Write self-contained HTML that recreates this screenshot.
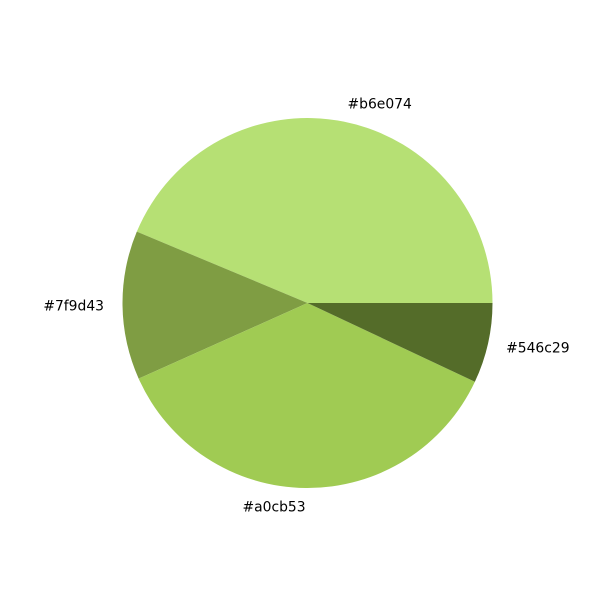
<!DOCTYPE html>
<html>
<head>
<meta charset="utf-8">
<style>
  html, body { margin: 0; padding: 0; background: #ffffff; }
  svg { display: block; }
  text { font-family: "DejaVu Sans", "Liberation Sans", sans-serif; font-size: 13.9px; fill: #000; }
</style>
</head>
<body>
<svg id="chart" width="600" height="600" viewBox="0 0 600 600"></svg>
<script>
const categories = ["#b6e074", "#7f9d43", "#a0cb53", "#546c29"];
const values = [43.7, 13, 36.3, 7];
const colors = ["#b6e074", "#7f9d43", "#a0cb53", "#546c29"];

const svg = document.getElementById('chart');
const NS = 'http://www.w3.org/2000/svg';
const cx = 307.5, cy = 303, r = 185;
const total = values.reduce((a, b) => a + b, 0);
function pt(angDeg, rad) {
  const a = angDeg * Math.PI / 180;
  return [cx + rad * Math.cos(a), cy - rad * Math.sin(a)];
}
let start = 0;
values.forEach((v, i) => {
  const span = v / total * 360;
  const end = start + span;
  const [x1, y1] = pt(start, r);
  const [x2, y2] = pt(end, r);
  const large = span > 180 ? 1 : 0;
  const path = document.createElementNS(NS, 'path');
  path.setAttribute('d', `M${cx},${cy} L${x1},${y1} A${r},${r} 0 ${large} 0 ${x2},${y2} Z`);
  path.setAttribute('fill', colors[i]);
  
  
  svg.appendChild(path);

  const mid = start + span / 2;
  const [lx, ly] = pt(mid, r * 1.1);
  const t = document.createElementNS(NS, 'text');
  const c = Math.cos(mid * Math.PI / 180);
  t.setAttribute('x', lx);
  t.setAttribute('y', ly + 1);
  t.setAttribute('text-anchor', c >= 0 ? 'start' : 'end');
  t.setAttribute('dominant-baseline', 'central');
  t.textContent = categories[i];
  
  
  svg.appendChild(t);
  start = end;
});
</script>
</body>
</html>
